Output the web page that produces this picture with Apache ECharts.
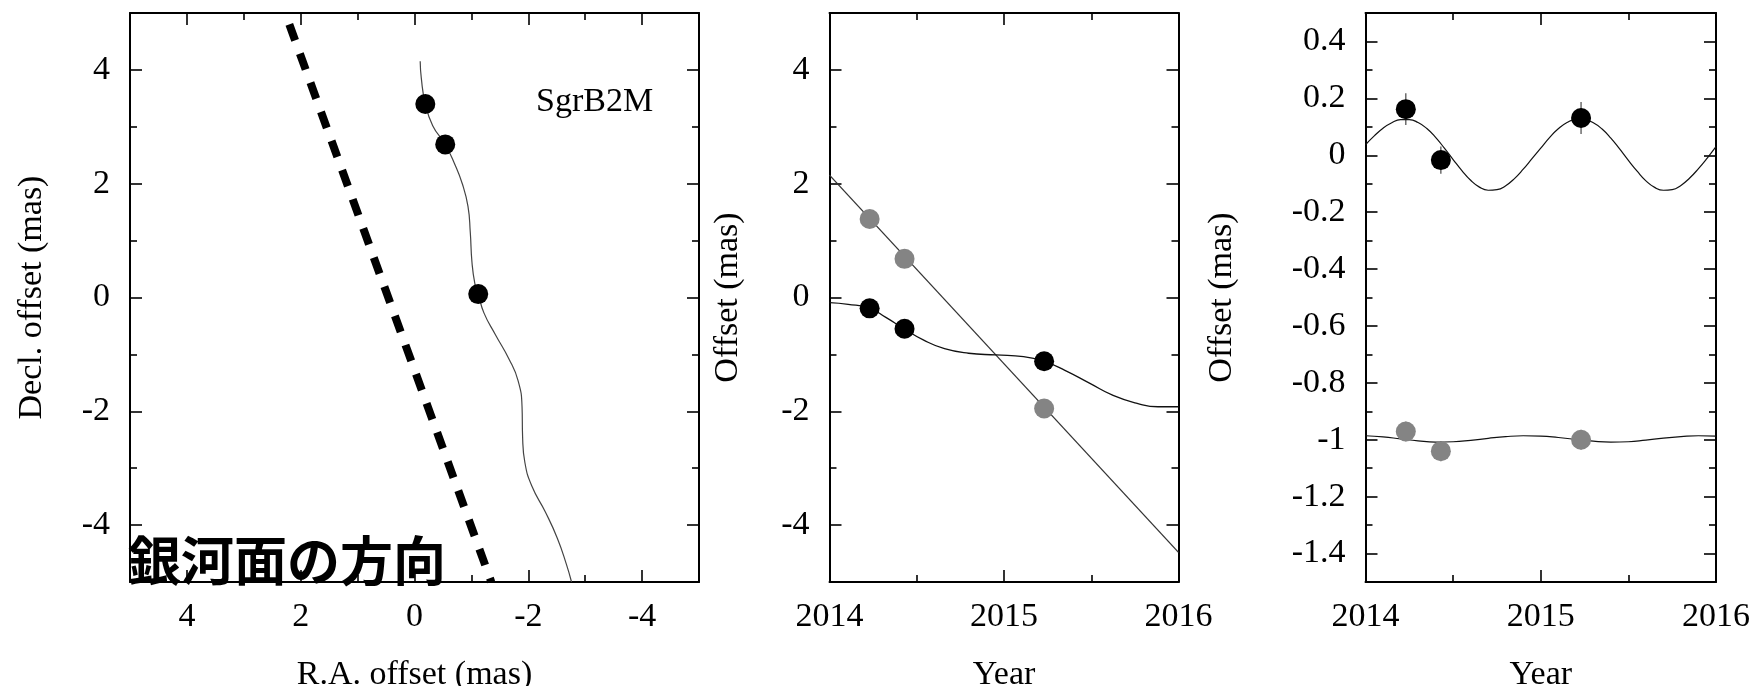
<!DOCTYPE html>
<html><head><meta charset="utf-8">
<script src="https://cdn.jsdelivr.net/npm/echarts@6/dist/echarts.min.js"></script>
<style>html,body{margin:0;padding:0;background:#fff}#c{width:1758px;height:686px}</style>
</head><body><div id="c"></div>
<script>
// ---------------- data ----------------
// Panel 1: sky-plane track (R.A. offset, Decl. offset), mas
const skyPointRA  = [-0.19, -0.54, -1.12];
const skyPointDec = [3.40, 2.69, 0.06];
const skyTrackRA  = [-0.10, -0.12, -0.19, -0.32, -0.54, -0.70, -0.84, -0.94, -0.98, -1.01, -1.06, -1.12, -1.22, -1.42, -1.66, -1.82, -1.89, -1.90, -1.94, -2.06, -2.30, -2.51, -2.67, -2.76];
const skyTrackDec = [4.15, 3.85, 3.40, 3.02, 2.69, 2.36, 2.00, 1.60, 1.15, 0.62, 0.25, 0.06, -0.27, -0.65, -1.08, -1.46, -1.92, -2.45, -2.90, -3.31, -3.77, -4.23, -4.69, -5.00];
const planeRA  = [2.20, -1.35];   // direction of the Galactic plane (dashed)
const planeDec = [4.80, -5.00];
const planeLabel = '銀河面の方向';
const sourceName = 'SgrB2M';

// Panel 2: offsets vs. time
const epochs    = [2014.23, 2014.43, 2015.23];
const raOffset  = [-0.19, -0.55, -1.12];
const decOffset = [1.38, 0.68, -1.95];
const raFitYears = [2014.0, 2014.107, 2014.231, 2014.323, 2014.428, 2014.54, 2014.659, 2014.797, 2014.955, 2015.112, 2015.227, 2015.349, 2015.487, 2015.625, 2015.763, 2015.882, 2016.0];
const raFit      = [-0.09, -0.12, -0.19, -0.35, -0.55, -0.75, -0.90, -0.98, -1.01, -1.04, -1.12, -1.28, -1.50, -1.72, -1.86, -1.92, -1.92];
const decFitYears = [2014.0, 2016.0];
const decFit      = [2.15, -4.48];

// Panel 3: residual (parallax) motion
const raResidual     = [0.162, -0.017, 0.131];
const raResidualErr  = [0.056, 0.048, 0.056];
const decResidual    = [-0.971, -1.040, -1.000];
const decResidualErr = [0.035, 0.036, 0.035];
const resYears = [2014.00,2014.05,2014.10,2014.15,2014.20,2014.25,2014.30,2014.35,2014.40,2014.45,2014.50,2014.55,2014.60,2014.65,2014.70,2014.75,2014.80,2014.85,2014.90,2014.95,2015.00,2015.05,2015.10,2015.15,2015.20,2015.25,2015.30,2015.35,2015.40,2015.45,2015.50,2015.55,2015.60,2015.65,2015.70,2015.75,2015.80,2015.85,2015.90,2015.95,2016.00];
const raResFit  = [0.037,0.068,0.095,0.114,0.125,0.125,0.115,0.094,0.063,0.025,-0.015,-0.054,-0.088,-0.112,-0.123,-0.121,-0.107,-0.082,-0.049,-0.012,0.025,0.062,0.093,0.115,0.126,0.125,0.114,0.092,0.060,0.022,-0.018,-0.056,-0.090,-0.113,-0.123,-0.121,-0.106,-0.080,-0.047,-0.010,0.030];
const decResYears = [2014.0,2014.1,2014.2,2014.3,2014.4,2014.5,2014.6,2014.7,2014.8,2014.9,2015.0,2015.1,2015.2,2015.3,2015.4,2015.5,2015.6,2015.7,2015.8,2015.9,2016.0];
const decResFit   = [-0.986,-0.990,-0.997,-1.004,-1.008,-1.007,-1.002,-0.995,-0.989,-0.986,-0.987,-0.992,-0.999,-1.005,-1.008,-1.007,-1.001,-0.994,-0.989,-0.986,-0.987];

// tick labels
const offsetMajor = [-4, -2, 0, 2, 4];
const offsetMinor = [-3, -1, 1, 3];
const yearMajor = [2014, 2015, 2016];
const yearMinor = [2014.5, 2015.5];
const resMajor = [-1.4, -1.2, -1, -0.8, -0.6, -0.4, -0.2, 0, 0.2, 0.4];
const resMinor = [-1.3, -1.1, -0.9, -0.7, -0.5, -0.3, -0.1, 0.1, 0.3];

// ---------------- chart ----------------
const FONT = 'Liberation Serif';
const zip = (a, b) => a.map((v, i) => [v, b[i]]);
const fmt = v => String(Math.round(v * 10) / 10);

function makeAxes(gridIndex, isX, c) {
  const posA = isX ? 'bottom' : 'left', posB = isX ? 'top' : 'right';
  const base = {type: 'value', gridIndex, min: c.min, max: c.max, inverse: !!c.inverse,
    splitLine: {show: false}, axisPointer: {show: false}};
  const line = {show: true, onZero: false, lineStyle: {color: '#000', width: 2}};
  const noLine = {show: false, onZero: false};
  const major = {show: true, inside: true, length: 12, lineStyle: {color: '#000', width: 1.6}, customValues: c.major};
  const minor = {show: true, inside: true, length: 7, lineStyle: {color: '#000', width: 1.6}, customValues: c.minor};
  return [
    Object.assign({}, base, {position: posA, axisLine: line, axisTick: major,
      axisLabel: {show: true, customValues: c.major, margin: c.margin, color: '#000', fontFamily: FONT, fontSize: 34, formatter: fmt},
      name: c.name, nameLocation: 'middle', nameGap: c.nameGap,
      nameTextStyle: {color: '#000', fontFamily: FONT, fontSize: 34}}),
    Object.assign({}, base, {position: posB, axisLine: line, axisTick: major, axisLabel: {show: false}}),
    Object.assign({}, base, {position: posA, axisLine: noLine, axisTick: minor, axisLabel: {show: false}}),
    Object.assign({}, base, {position: posB, axisLine: noLine, axisTick: minor, axisLabel: {show: false}})
  ];
}

const xAxes = [].concat(
  makeAxes(0, true, {min: -5, max: 5, inverse: true, major: offsetMajor, minor: offsetMinor, margin: 18, name: 'R.A. offset (mas)', nameGap: 76}),
  makeAxes(1, true, {min: 2014, max: 2016, major: yearMajor, minor: yearMinor, margin: 18, name: 'Year', nameGap: 76}),
  makeAxes(2, true, {min: 2014, max: 2016, major: yearMajor, minor: yearMinor, margin: 18, name: 'Year', nameGap: 76})
);
const yAxes = [].concat(
  makeAxes(0, false, {min: -5, max: 5, major: offsetMajor, minor: offsetMinor, margin: 20, name: 'Decl. offset (mas)', nameGap: 81}),
  makeAxes(1, false, {min: -5, max: 5, major: offsetMajor, minor: offsetMinor, margin: 20, name: 'Offset (mas)', nameGap: 84}),
  makeAxes(2, false, {min: -1.5, max: 0.5, major: resMajor, minor: resMinor, margin: 20, name: 'Offset (mas)', nameGap: 126})
);

function errorBars(axis, xs, ys, errs, color) {
  return {type: 'custom', xAxisIndex: axis, yAxisIndex: axis, z: 2,
    encode: {x: 0, y: [1, 2]},
    data: xs.map((x, i) => [x, ys[i] - errs[i], ys[i] + errs[i]]),
    renderItem: (params, api) => {
      const p1 = api.coord([api.value(0), api.value(1)]);
      const p2 = api.coord([api.value(0), api.value(2)]);
      return {type: 'line', shape: {x1: p1[0], y1: p1[1], x2: p2[0], y2: p2[1]},
        style: {stroke: color, lineWidth: 1.3}};
    }};
}
const lineS = (axis, data, color, width, extra) => Object.assign({type: 'line', xAxisIndex: axis, yAxisIndex: axis,
  data, symbol: 'none', smooth: true, z: 2, lineStyle: {color, width}}, extra || {});
const dots = (axis, data, color) => ({type: 'scatter', xAxisIndex: axis, yAxisIndex: axis, data,
  symbol: 'circle', symbolSize: 20, z: 4, itemStyle: {color, opacity: 1}});

const GRAY = '#848484';
const gridBase = {top: 13, height: 569, containLabel: false, outerBoundsMode: 'none'};
const option = {
  animation: false,
  backgroundColor: '#fff',
  textStyle: {fontFamily: FONT},
  grid: [
    Object.assign({left: 130, width: 569}, gridBase),
    Object.assign({left: 829.5, width: 349}, gridBase),
    Object.assign({left: 1365.5, width: 350.5}, gridBase)
  ],
  xAxis: xAxes,
  yAxis: yAxes,
  series: [
    lineS(0, zip(planeRA, planeDec), '#000', 8, {smooth: false, lineStyle: {color: '#000', width: 8, type: [17, 14], cap: 'butt'}}),
    lineS(0, zip(skyTrackRA, skyTrackDec), '#444', 1.2),
    dots(0, zip(skyPointRA, skyPointDec), '#000'),

    lineS(4, zip(decFitYears, decFit), '#333', 1.3, {smooth: false}),
    lineS(4, zip(raFitYears, raFit), '#111', 1.3),
    dots(4, zip(epochs, decOffset), GRAY),
    dots(4, zip(epochs, raOffset), '#000'),

    lineS(8, zip(resYears, raResFit), '#111', 1.2),
    lineS(8, zip(decResYears, decResFit), '#111', 1.2),
    errorBars(8, epochs, raResidual, raResidualErr, '#555'),
    errorBars(8, epochs, decResidual, decResidualErr, '#999'),
    dots(8, zip(epochs, raResidual), '#000'),
    dots(8, zip(epochs, decResidual), GRAY)
  ],
  graphic: [
    {type: 'text', z: 100, style: {x: 536, y: 102, text: sourceName, fill: '#000',
      font: '34px "Liberation Serif"', textAlign: 'left', textVerticalAlign: 'middle'}},
    {type: 'text', z: 100, style: {x: 128, y: 561, text: planeLabel, fill: '#000',
      font: 'bold 53px "Noto Sans CJK JP"', textAlign: 'left', textVerticalAlign: 'middle'}}
  ]
};
const chart = echarts.init(document.getElementById('c'), null, {renderer: 'canvas'});
chart.setOption(option);
</script>
</body></html>
